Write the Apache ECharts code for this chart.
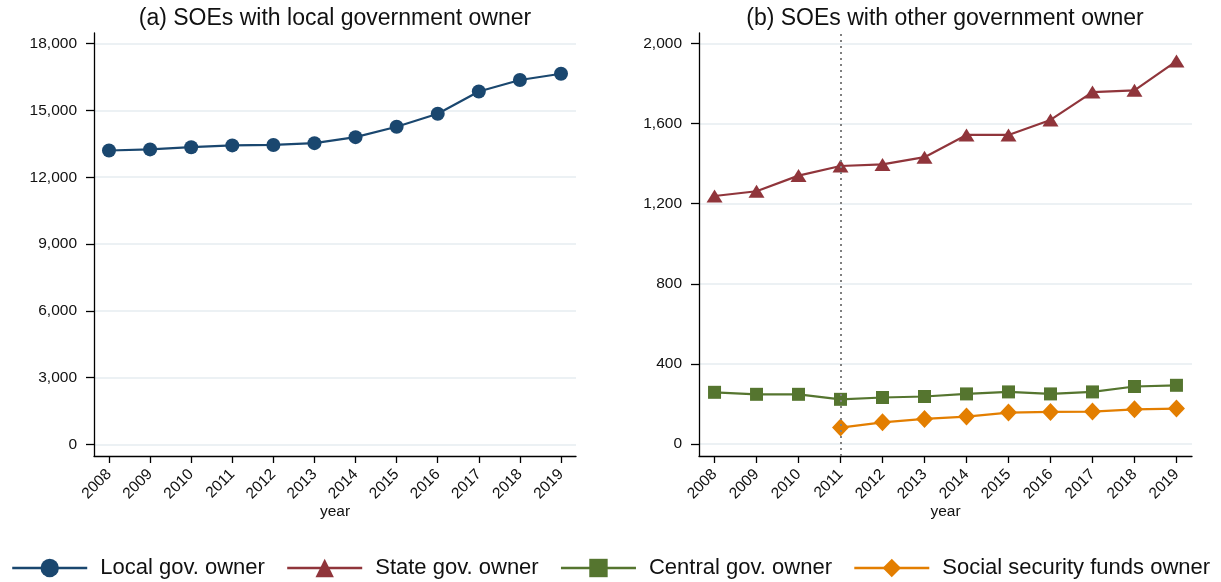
<!DOCTYPE html>
<html>
<head>
<meta charset="utf-8">
<script src="https://cdn.jsdelivr.net/npm/echarts@6/dist/echarts.min.js"></script>
<style>html,body{margin:0;padding:0;background:#fff;}#c{width:1221px;height:582px;}</style>
</head>
<body>
<div id="c"></div>
<script>
const years = [2008,2009,2010,2011,2012,2013,2014,2015,2016,2017,2018,2019];
const localGov = [13200,13250,13350,13430,13450,13530,13800,14270,14850,15850,16370,16650];
const stateGov = [1238,1262,1340,1388,1396,1432,1543,1543,1618,1757,1766,1912];
const centralGov = [258,248,248,223,232,237,250,260,250,260,287,293];
const socialSec = [null,null,null,82,108,125,137,157,160,162,173,177];
const leftTicks = [0,3000,6000,9000,12000,15000,18000];
const rightTicks = [0,400,800,1200,1600,2000];
const titles = ['(a) SOEs with local government owner','(b) SOEs with other government owner'];
const names = ['Local gov. owner','State gov. owner','Central gov. owner','Social security funds owner'];
const colors = ['#1a476f','#90353b','#55752f','#e37e00'];

function pairs(vals){ return years.map((y,i)=>[y,vals[i]]).filter(p=>p[1]!==null); }
const FONT = 'Liberation Sans, Arial, sans-serif';
const fmt = v => Number(v).toLocaleString('en-US');

function xAxis(gi, mn, mx){
  return {
    type:'value', gridIndex:gi, min:mn, max:mx,
    name:'year', nameLocation:'middle', nameGap:48, nameMoveOverlap:false,
    nameTextStyle:{fontFamily:FONT,fontSize:15.5,color:'#111'},
    axisLine:{show:true,onZero:false,lineStyle:{color:'#000',width:1.3}},
    axisTick:{show:true,length:7,customValues:years,lineStyle:{color:'#000',width:1.3}},
    axisLabel:{customValues:years,rotate:45,margin:16,fontFamily:FONT,fontSize:15.5,color:'#111',formatter:v=>String(v)},
    splitLine:{show:false}
  };
}
function yAxis(gi, mn, mx, ticks){
  return {
    type:'value', gridIndex:gi, min:mn, max:mx,
    axisLine:{show:true,onZero:false,lineStyle:{color:'#000',width:1.3}},
    axisTick:{show:true,length:8,customValues:ticks,lineStyle:{color:'#000',width:1.3}},
    axisLabel:{customValues:ticks,margin:17,fontFamily:FONT,fontSize:15.5,color:'#111',formatter:fmt},
    splitLine:{show:true,lineStyle:{color:'#e6edf1',width:1.5}}
  };
}
function lineSeries(name, vals, color, symbol, size, xi, extra){
  return Object.assign({
    name, type:'line', xAxisIndex:xi, yAxisIndex:xi, data:pairs(vals),
    symbol, symbolSize:size, showSymbol:true,
    lineStyle:{color, width:2.2}, itemStyle:{color},
    emphasis:{disabled:true}, animation:false, z:3
  }, extra||{});
}

const chart = echarts.init(document.getElementById('c'), null, {renderer:'canvas'});
chart.setOption({
  backgroundColor:'#fff',
  animation:false,
  title:[
    {text:titles[0], left:335, top:7, textAlign:'center', padding:0, textStyle:{fontFamily:FONT,fontSize:23,fontWeight:'normal',color:'#111'}},
    {text:titles[1], left:945, top:7, textAlign:'center', padding:0, textStyle:{fontFamily:FONT,fontSize:23,fontWeight:'normal',color:'#111'}}
  ],
  legend:{
    data:names, left:'center', top:557, padding:0, itemWidth:75, itemHeight:23, itemGap:21,
    textStyle:{fontFamily:FONT,fontSize:22,color:'#111',padding:[0,0,0,8]},
    lineStyle:{width:2.6},
    selectedMode:false
  },
  grid:[
    {left:94, top:33, width:482, height:423, containLabel:false},
    {left:699, top:33, width:493, height:423, containLabel:false}
  ],
  xAxis:[xAxis(0,2007.635,2019.365), xAxis(1,2007.63,2019.37)],
  yAxis:[yAxis(0,-525,18480,leftTicks), yAxis(1,-60,2052,rightTicks)],
  series:[
    lineSeries(names[0], localGov, colors[0], 'circle', 14, 0),
    lineSeries(names[1], stateGov, colors[1], 'triangle', [16,13], 1, {
      markLine:{silent:true, symbol:'none', label:{show:false},
        lineStyle:{color:'#808080', type:[2,4], width:2},
        data:[{xAxis:2011}]}
    }),
    lineSeries(names[2], centralGov, colors[2], 'rect', 13, 1),
    lineSeries(names[3], socialSec, colors[3], 'diamond', [17,18], 1)
  ]
});
</script>
</body>
</html>
